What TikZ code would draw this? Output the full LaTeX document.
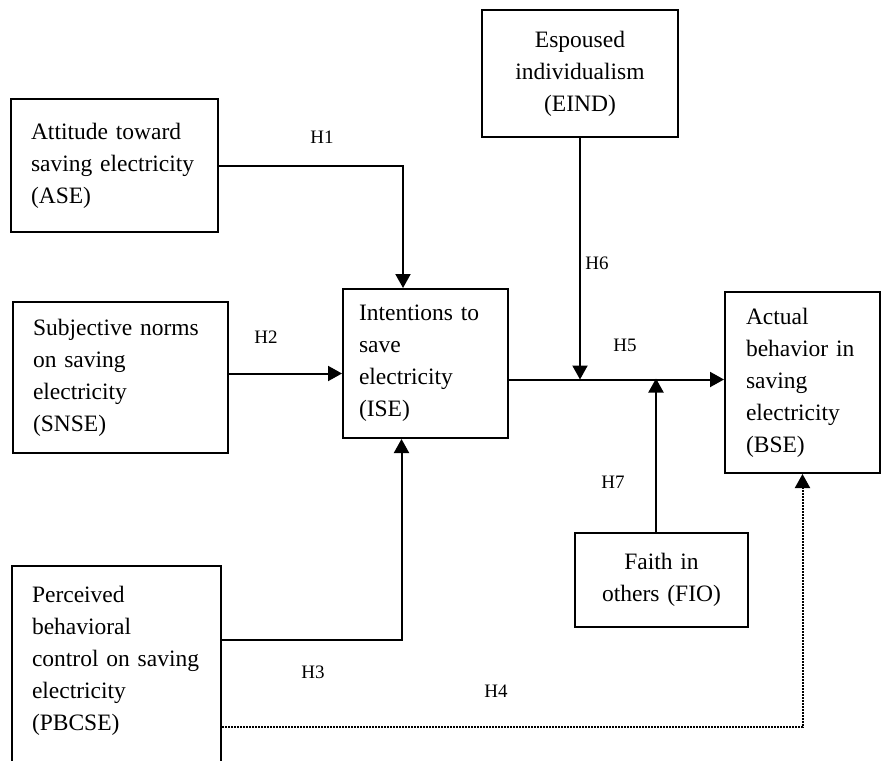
\documentclass[tikz,border=0pt]{standalone}
\usepackage{fontspec}
\setmainfont{Liberation Serif}
\usetikzlibrary{arrows.meta}

\tikzset{
  box/.style={draw, line width=2pt, inner xsep=20pt, inner ysep=0pt, font=\fontsize{23.5}{32}\selectfont},
  lbox/.style={box, align=left},
  cbox/.style={box, align=center},
  hyp/.style={inner sep=0pt, font=\fontsize{19}{22}\selectfont},
  link/.style={line width=2pt, -{Triangle[length=14pt, width=15pt]}}
}

\begin{document}
\begin{tikzpicture}[x=1pt, y=-1pt]
  \useasboundingbox (0,0) rectangle (883,760);
  \path[clip] (0,0) rectangle (883,760);

  \node[lbox, text width=167pt, minimum height=133pt] (ASE) at (114.5,165.5) {Attitude toward\\saving electricity\\(ASE)};
  \node[cbox, text width=156pt, minimum height=127pt] (EIND) at (580,73.5) {Espoused\\individualism\\(EIND)};
  \node[lbox, text width=175pt, minimum height=151pt] (SNSE) at (120.5,377.5) {Subjective norms\\on saving\\electricity\\(SNSE)};
  \node[lbox, inner xsep=16pt, text width=133pt, minimum height=149pt] (ISE) at (425.5,363.5) {Intentions to\\save\\electricity\\(ISE)};
  \node[lbox, inner xsep=21pt, text width=113pt, minimum height=181pt] (BSE) at (802.5,382.5) {Actual\\behavior in\\saving\\electricity\\(BSE)};
  \node[cbox, text width=133pt, minimum height=94pt] (FIO) at (661.5,580) {Faith in\\others (FIO)};
  \node[lbox, anchor=north west, inner ysep=20pt, text width=169pt, text depth=220pt] (PBCSE) at (11,565) {Perceived\\behavioral\\control on saving\\electricity\\(PBCSE)};

  \coordinate (mid) at ([yshift=-16pt]ISE.east);

  \draw[link] (ASE.east) -| ([xshift=-22.5pt]ISE.north);
  \draw[link] ([yshift=4pt]SNSE.east) -- ([yshift=4pt]SNSE.east -| ISE.west);
  \draw[link] ([yshift=-75pt]PBCSE.north east) -| ([xshift=-24pt]ISE.south);
  \draw[link] (mid) -- (mid -| BSE.west);
  \draw[link] (EIND.south) -- (EIND.south |- mid);
  \draw[link, shorten >=-1pt] ([xshift=-5.5pt]FIO.north) -- ([xshift=-5.5pt]FIO.north |- mid);
  \draw[link, dash pattern=on 1.5pt off 1.5pt] ([yshift=-162pt]PBCSE.north east) -| (BSE.south);

  \node[hyp] (h1) at (322,137) {H1};
  \node[hyp] (h2) at (266,337) {H2};
  \node[hyp] (h3) at (313,672) {H3};
  \node[hyp] (h4) at (496,691) {H4};
  \node[hyp] (h5) at (625,345) {H5};
  \node[hyp] (h6) at (597,263) {H6};
  \node[hyp] (h7) at (613,482) {H7};
\end{tikzpicture}
\end{document}
